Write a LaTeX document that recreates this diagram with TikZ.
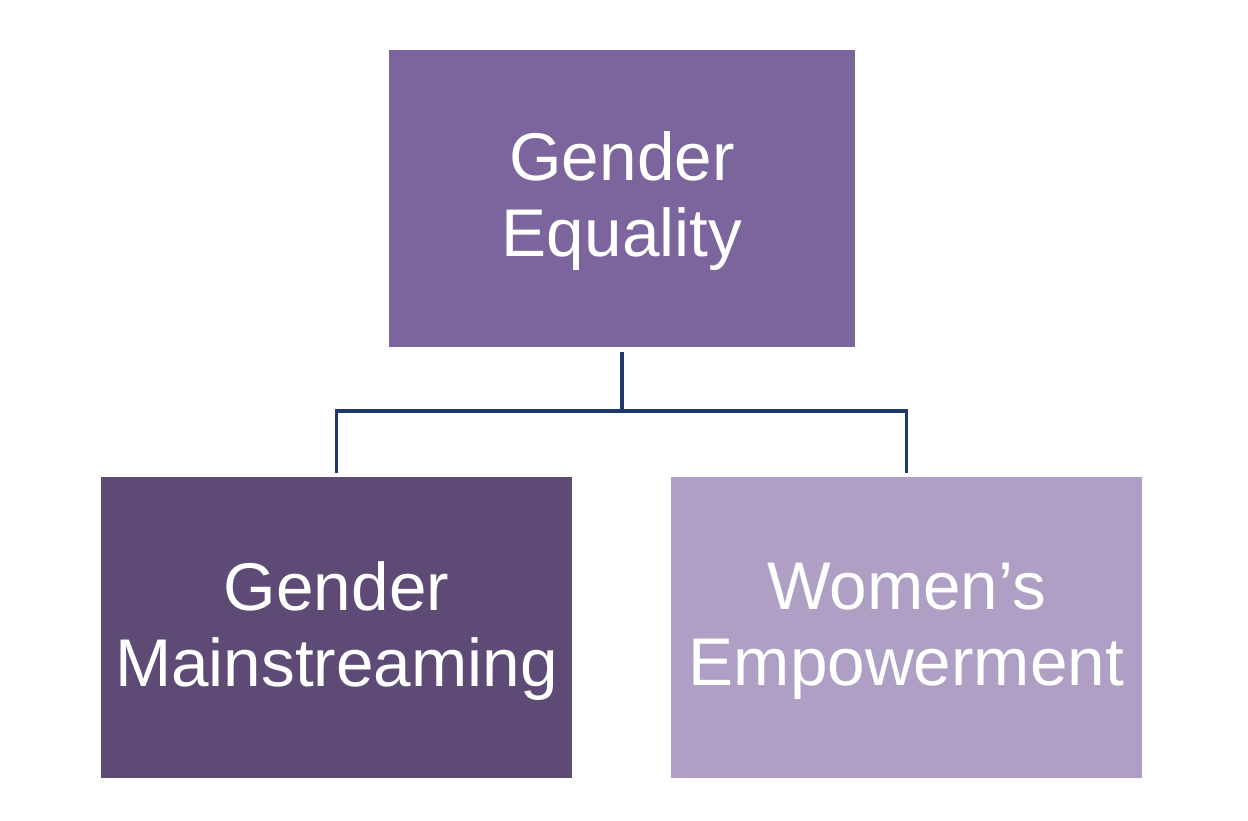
\documentclass[tikz,border=0pt]{standalone}
\usepackage{fontspec}
\setmainfont{Liberation Sans}
\definecolor{topc}{HTML}{7B659C}
\definecolor{leftc}{HTML}{5D4B76}
\definecolor{rightc}{HTML}{AF9FC4}
\definecolor{connc}{HTML}{1F3A6A}
\begin{document}
\begin{tikzpicture}[x=1pt,y=1pt,
  box/.style={rectangle, inner sep=0pt},
  boxtext/.style={inner sep=0pt, text=white, align=center,
    font=\fontsize{67.5}{76}\selectfont},
  conn/.style={draw=connc, line width=3.5pt}]
\useasboundingbox[fill=white] (0,0) rectangle (1248,820);
\node[box, fill=topc, minimum width=466pt, minimum height=297pt] (top) at (622,621.5) {};
\node[box, fill=leftc, minimum width=471pt, minimum height=301pt] (left) at (336.5,192.5) {};
\node[box, fill=rightc, minimum width=471pt, minimum height=301pt] (right) at (906.5,192.5) {};
\node[boxtext] (toptext) at ([yshift=-3pt]top.center) {Gender\\Equality};
\node[boxtext] (lefttext) at ([yshift=-4pt]left.center) {Gender\\Mainstreaming};
\node[boxtext] (righttext) at ([yshift=-4pt]right.center) {Women’s\\Empowerment};
\coordinate (hub) at ([yshift=-64pt]top.south);
\draw[conn] ([yshift=-5pt]top.south) -- (hub);
\draw[conn] (hub) -| ([yshift=4pt]left.north);
\draw[conn] (hub) -| ([yshift=4pt]right.north);
\end{tikzpicture}
\end{document}
